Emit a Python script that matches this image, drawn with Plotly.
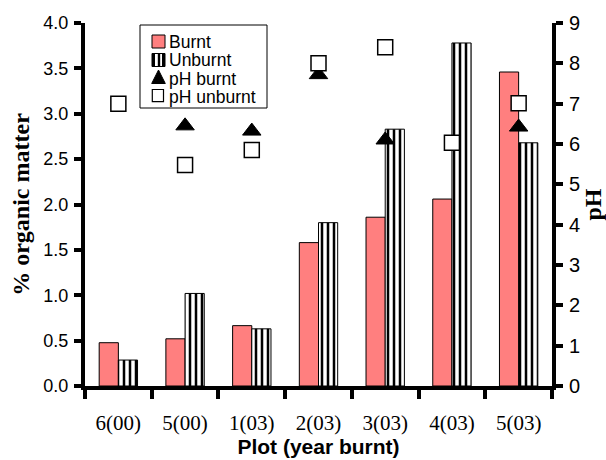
import plotly.graph_objects as go

plots = ["6(00)", "5(00)", "1(03)", "2(03)", "3(03)", "4(03)", "5(03)"]
om_burnt = [0.477, 0.52, 0.665, 1.58, 1.86, 2.06, 3.46]
om_unburnt = [0.286, 1.02, 0.63, 1.80, 2.83, 3.78, 2.68]
ph_burnt = [None, 6.45, 6.32, 7.72, 6.1, None, 6.42]
ph_unburnt = [7.0, 5.48, 5.85, 8.0, 8.4, 6.03, 7.01]

left_ticks = [0, 0.5, 1.0, 1.5, 2.0, 2.5, 3.0, 3.5, 4.0]
right_ticks = list(range(0, 10))
legend_labels = ["Burnt", "Unburnt", "pH burnt", "pH unburnt"]

sans = "Liberation Sans, Arial, sans-serif"
serif = "Liberation Serif, Times New Roman, serif"
BURNT = "#FF7F7F"

W, H = 606, 460
L, R, T, B = 85, 552, 23, 386


def px(x):
    return (x - L) / (R - L)


def py(y):
    return (B - y) / (B - T)


fig = go.Figure()
fig.add_trace(go.Bar(
    x=plots, y=om_burnt, name="Burnt",
    marker=dict(color=BURNT, line=dict(color="black", width=1)),
))
fig.add_trace(go.Bar(
    x=plots, y=om_unburnt, name="Unburnt",
    marker=dict(color="white", line=dict(color="black", width=1),
                pattern=dict(shape="|", fgcolor="black", bgcolor="white",
                             size=6, solidity=0.42, fillmode="replace")),
))
fig.add_trace(go.Scatter(
    x=plots, y=ph_burnt, name="pH burnt", yaxis="y2", mode="markers",
    marker=dict(symbol="triangle-up", size=16, color="black",
                line=dict(color="black", width=1)),
))
fig.add_trace(go.Scatter(
    x=plots, y=ph_unburnt, name="pH unburnt", yaxis="y2", mode="markers",
    marker=dict(symbol="square", size=15, color="white",
                line=dict(color="black", width=1.5)),
))

# hand-drawn legend box (to match the compact original legend)
shapes = [
    dict(type="rect", xref="paper", yref="paper", layer="above",
         x0=px(140), x1=px(267), y0=py(108), y1=py(25),
         fillcolor="white", line=dict(color="black", width=1)),
    dict(type="rect", xref="paper", yref="paper", layer="above",
         x0=px(152), x1=px(165), y0=py(48), y1=py(35),
         fillcolor=BURNT, line=dict(color="black", width=1)),
    dict(type="rect", xref="paper", yref="paper", layer="above",
         x0=px(152), x1=px(165), y0=py(66.5), y1=py(53.5),
         fillcolor="white", line=dict(color="black", width=1)),
]
for a, b in [(152, 155), (157.8, 160.2), (162, 165)]:
    shapes.append(dict(type="rect", xref="paper", yref="paper", layer="above",
                       x0=px(a), x1=px(b), y0=py(66.5), y1=py(53.5),
                       fillcolor="black", line=dict(width=0)))
shapes.append(dict(
    type="path", xref="paper", yref="paper", layer="above",
    path=f"M {px(151.7)},{py(83.5)} L {px(165.3)},{py(83.5)} L {px(158.5)},{py(70)} Z",
    fillcolor="black", line=dict(color="black", width=1)))
shapes.append(dict(type="rect", xref="paper", yref="paper", layer="above",
                   x0=px(152.3), x1=px(163.5), y0=py(101.7), y1=py(89.5),
                   fillcolor="white", line=dict(color="black", width=1.2)))

annotations = []
for lab, yc in zip(legend_labels, [42.0, 60.2, 78.5, 96.8]):
    annotations.append(dict(
        text=lab, xref="paper", yref="paper", x=px(167), y=py(yc),
        xanchor="left", yanchor="middle", showarrow=False,
        font=dict(family=sans, size=17.5, color="black")))

fig.update_layout(
    width=W, height=H,
    margin=dict(l=L, r=W - R, t=T, b=H - B),
    paper_bgcolor="white", plot_bgcolor="white",
    barmode="group", bargap=0.425, bargroupgap=0,
    showlegend=False,
    shapes=shapes, annotations=annotations,
    xaxis=dict(
        type="category", range=[-0.5, 6.5], automargin=False,
        showline=True, linecolor="black", linewidth=4,
        ticks="outside", tickson="boundaries", ticklen=9, tickwidth=4,
        tickcolor="black", ticklabelstandoff=15,
        tickfont=dict(family=serif, size=21, color="black"),
        title=dict(text="<b>Plot (year burnt)</b>", standoff=4,
                   font=dict(family=sans, size=21, color="black")),
        showgrid=False, zeroline=False,
    ),
    yaxis=dict(
        range=[0, 4], tickvals=left_ticks, tickformat=".1f", automargin=False,
        showline=True, linecolor="black", linewidth=4,
        ticks="outside", ticklen=7, tickwidth=4, tickcolor="black",
        ticklabelstandoff=2,
        tickfont=dict(family=sans, size=18, color="black"),
        title=dict(text="<b>% organic matter</b>", standoff=8,
                   font=dict(family=serif, size=24, color="black")),
        showgrid=False, zeroline=False,
    ),
    yaxis2=dict(
        range=[0, 9], tickvals=right_ticks, overlaying="y", side="right",
        automargin=False,
        showline=True, linecolor="black", linewidth=4,
        ticks="outside", ticklen=7, tickwidth=4, tickcolor="black",
        ticklabelstandoff=2,
        tickfont=dict(family=sans, size=20, color="black"),
        title=dict(text="<b>pH</b>", standoff=2,
                   font=dict(family=serif, size=24, color="black")),
        showgrid=False, zeroline=False,
    ),
    yaxis3=dict(
        range=[0, 4], tickvals=left_ticks, overlaying="y", side="left",
        automargin=False, showline=False, showticklabels=False,
        ticks="inside", ticklen=7, tickwidth=4, tickcolor="black",
        showgrid=False, zeroline=False,
    ),
    yaxis4=dict(
        range=[0, 9], tickvals=right_ticks, overlaying="y", side="right",
        automargin=False, showline=False, showticklabels=False,
        ticks="inside", ticklen=7, tickwidth=4, tickcolor="black",
        showgrid=False, zeroline=False,
    ),
)

fig.write_html("out.html",
               config={"displayModeBar": False},
               post_script="document.body.style.margin='0';document.body.style.overflow='hidden';")
